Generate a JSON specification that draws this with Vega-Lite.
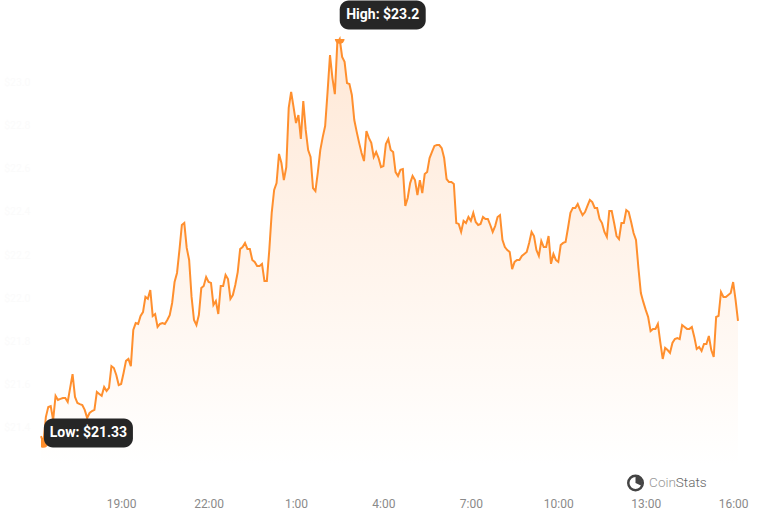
{"$schema":"https://vega.github.io/schema/vega-lite/v6.json","width":697,"height":426,"autosize":"none","padding":{"left":41,"top":39,"right":30,"bottom":59},"background":"#ffffff","config":{"view":{"stroke":null},"font":"Roboto"},
"datasets":{"series":[
{"time":"2024-01-01T16:15","price":21.362},{"time":"2024-01-01T16:20","price":21.33},{"time":"2024-01-01T16:25","price":21.45},{"time":"2024-01-01T16:30","price":21.497},{"time":"2024-01-01T16:35","price":21.501},{"time":"2024-01-01T16:40","price":21.436},{"time":"2024-01-01T16:45","price":21.548},{"time":"2024-01-01T16:50","price":21.529},{"time":"2024-01-01T16:55","price":21.534},{"time":"2024-01-01T17:00","price":21.538},{"time":"2024-01-01T17:05","price":21.538},{"time":"2024-01-01T17:10","price":21.52},{"time":"2024-01-01T17:15","price":21.585},{"time":"2024-01-01T17:20","price":21.649},{"time":"2024-01-01T17:25","price":21.543},{"time":"2024-01-01T17:30","price":21.515},{"time":"2024-01-01T17:35","price":21.51},{"time":"2024-01-01T17:40","price":21.506},{"time":"2024-01-01T17:45","price":21.483},{"time":"2024-01-01T17:50","price":21.446},{"time":"2024-01-01T17:55","price":21.469},{"time":"2024-01-01T18:00","price":21.478},{"time":"2024-01-01T18:05","price":21.483},{"time":"2024-01-01T18:10","price":21.566},{"time":"2024-01-01T18:15","price":21.557},{"time":"2024-01-01T18:20","price":21.548},{"time":"2024-01-01T18:25","price":21.589},{"time":"2024-01-01T18:30","price":21.571},{"time":"2024-01-01T18:35","price":21.585},{"time":"2024-01-01T18:40","price":21.686},{"time":"2024-01-01T18:45","price":21.677},{"time":"2024-01-01T18:50","price":21.645},{"time":"2024-01-01T18:55","price":21.598},{"time":"2024-01-01T19:00","price":21.603},{"time":"2024-01-01T19:05","price":21.654},{"time":"2024-01-01T19:10","price":21.71},{"time":"2024-01-01T19:15","price":21.719},{"time":"2024-01-01T19:20","price":21.686},{"time":"2024-01-01T19:25","price":21.853},{"time":"2024-01-01T19:30","price":21.885},{"time":"2024-01-01T19:35","price":21.881},{"time":"2024-01-01T19:40","price":21.918},{"time":"2024-01-01T19:45","price":21.936},{"time":"2024-01-01T19:50","price":22.006},{"time":"2024-01-01T19:55","price":21.997},{"time":"2024-01-01T20:00","price":22.038},{"time":"2024-01-01T20:05","price":21.918},{"time":"2024-01-01T20:10","price":21.927},{"time":"2024-01-01T20:15","price":21.867},{"time":"2024-01-01T20:20","price":21.881},{"time":"2024-01-01T20:25","price":21.885},{"time":"2024-01-01T20:30","price":21.881},{"time":"2024-01-01T20:35","price":21.899},{"time":"2024-01-01T20:40","price":21.922},{"time":"2024-01-01T20:45","price":21.978},{"time":"2024-01-01T20:50","price":22.075},{"time":"2024-01-01T20:55","price":22.117},{"time":"2024-01-01T21:00","price":22.223},{"time":"2024-01-01T21:05","price":22.339},{"time":"2024-01-01T21:10","price":22.348},{"time":"2024-01-01T21:15","price":22.233},{"time":"2024-01-01T21:20","price":22.177},{"time":"2024-01-01T21:25","price":22.006},{"time":"2024-01-01T21:30","price":21.899},{"time":"2024-01-01T21:35","price":21.876},{"time":"2024-01-01T21:40","price":21.922},{"time":"2024-01-01T21:45","price":22.047},{"time":"2024-01-01T21:50","price":22.057},{"time":"2024-01-01T21:55","price":22.098},{"time":"2024-01-01T22:00","price":22.075},{"time":"2024-01-01T22:05","price":22.071},{"time":"2024-01-01T22:10","price":21.969},{"time":"2024-01-01T22:15","price":21.987},{"time":"2024-01-01T22:20","price":21.927},{"time":"2024-01-01T22:25","price":22.057},{"time":"2024-01-01T22:30","price":22.057},{"time":"2024-01-01T22:35","price":22.108},{"time":"2024-01-01T22:40","price":22.089},{"time":"2024-01-01T22:45","price":21.997},{"time":"2024-01-01T22:50","price":22.015},{"time":"2024-01-01T22:55","price":22.061},{"time":"2024-01-01T23:00","price":22.121},{"time":"2024-01-01T23:05","price":22.228},{"time":"2024-01-01T23:10","price":22.237},{"time":"2024-01-01T23:15","price":22.256},{"time":"2024-01-01T23:20","price":22.228},{"time":"2024-01-01T23:25","price":22.228},{"time":"2024-01-01T23:30","price":22.177},{"time":"2024-01-01T23:35","price":22.168},{"time":"2024-01-01T23:40","price":22.149},{"time":"2024-01-01T23:45","price":22.149},{"time":"2024-01-01T23:50","price":22.159},{"time":"2024-01-01T23:55","price":22.08},
{"time":"2024-01-02T00:00","price":22.08},{"time":"2024-01-02T00:05","price":22.223},{"time":"2024-01-02T00:10","price":22.395},{"time":"2024-01-02T00:15","price":22.501},{"time":"2024-01-02T00:20","price":22.533},{"time":"2024-01-02T00:25","price":22.668},{"time":"2024-01-02T00:30","price":22.626},{"time":"2024-01-02T00:35","price":22.547},{"time":"2024-01-02T00:40","price":22.607},{"time":"2024-01-02T00:45","price":22.881},{"time":"2024-01-02T00:50","price":22.955},{"time":"2024-01-02T00:55","price":22.885},{"time":"2024-01-02T01:00","price":22.811},{"time":"2024-01-02T01:05","price":22.848},{"time":"2024-01-02T01:10","price":22.737},{"time":"2024-01-02T01:15","price":22.913},{"time":"2024-01-02T01:20","price":22.779},{"time":"2024-01-02T01:25","price":22.686},{"time":"2024-01-02T01:30","price":22.654},{"time":"2024-01-02T01:35","price":22.51},{"time":"2024-01-02T01:40","price":22.496},{"time":"2024-01-02T01:45","price":22.584},{"time":"2024-01-02T01:50","price":22.686},{"time":"2024-01-02T01:55","price":22.746},{"time":"2024-01-02T02:00","price":22.797},{"time":"2024-01-02T02:05","price":22.955},{"time":"2024-01-02T02:10","price":23.126},{"time":"2024-01-02T02:15","price":23.019},{"time":"2024-01-02T02:20","price":22.945},{"time":"2024-01-02T02:25","price":23.181},{"time":"2024-01-02T02:30","price":23.2},{"time":"2024-01-02T02:35","price":23.117},{"time":"2024-01-02T02:40","price":23.094},{"time":"2024-01-02T02:45","price":22.996},{"time":"2024-01-02T02:50","price":22.992},{"time":"2024-01-02T02:55","price":22.941},{"time":"2024-01-02T03:00","price":22.825},{"time":"2024-01-02T03:05","price":22.77},{"time":"2024-01-02T03:10","price":22.719},{"time":"2024-01-02T03:15","price":22.672},{"time":"2024-01-02T03:20","price":22.635},{"time":"2024-01-02T03:25","price":22.774},{"time":"2024-01-02T03:30","price":22.742},{"time":"2024-01-02T03:35","price":22.719},{"time":"2024-01-02T03:40","price":22.654},{"time":"2024-01-02T03:45","price":22.677},{"time":"2024-01-02T03:50","price":22.649},{"time":"2024-01-02T03:55","price":22.607},{"time":"2024-01-02T04:00","price":22.612},{"time":"2024-01-02T04:05","price":22.714},{"time":"2024-01-02T04:10","price":22.737},{"time":"2024-01-02T04:15","price":22.686},{"time":"2024-01-02T04:20","price":22.677},{"time":"2024-01-02T04:25","price":22.584},{"time":"2024-01-02T04:30","price":22.566},{"time":"2024-01-02T04:35","price":22.594},{"time":"2024-01-02T04:40","price":22.598},{"time":"2024-01-02T04:45","price":22.427},{"time":"2024-01-02T04:50","price":22.464},{"time":"2024-01-02T04:55","price":22.533},{"time":"2024-01-02T05:00","price":22.566},{"time":"2024-01-02T05:05","price":22.547},{"time":"2024-01-02T05:10","price":22.478},{"time":"2024-01-02T05:15","price":22.547},{"time":"2024-01-02T05:20","price":22.487},{"time":"2024-01-02T05:25","price":22.575},{"time":"2024-01-02T05:30","price":22.584},{"time":"2024-01-02T05:35","price":22.649},{"time":"2024-01-02T05:40","price":22.677},{"time":"2024-01-02T05:45","price":22.705},{"time":"2024-01-02T05:50","price":22.709},{"time":"2024-01-02T05:55","price":22.709},{"time":"2024-01-02T06:00","price":22.695},{"time":"2024-01-02T06:05","price":22.649},{"time":"2024-01-02T06:10","price":22.552},{"time":"2024-01-02T06:15","price":22.538},{"time":"2024-01-02T06:20","price":22.538},{"time":"2024-01-02T06:25","price":22.529},{"time":"2024-01-02T06:30","price":22.348},{"time":"2024-01-02T06:35","price":22.344},{"time":"2024-01-02T06:40","price":22.307},{"time":"2024-01-02T06:45","price":22.358},{"time":"2024-01-02T06:50","price":22.348},{"time":"2024-01-02T06:55","price":22.376},{"time":"2024-01-02T07:00","price":22.358},{"time":"2024-01-02T07:05","price":22.395},{"time":"2024-01-02T07:10","price":22.353},{"time":"2024-01-02T07:15","price":22.339},{"time":"2024-01-02T07:20","price":22.344},{"time":"2024-01-02T07:25","price":22.376},{"time":"2024-01-02T07:30","price":22.367},{"time":"2024-01-02T07:35","price":22.367},{"time":"2024-01-02T07:40","price":22.339},{"time":"2024-01-02T07:45","price":22.307},{"time":"2024-01-02T07:50","price":22.334},{"time":"2024-01-02T07:55","price":22.376},{"time":"2024-01-02T08:00","price":22.385},{"time":"2024-01-02T08:05","price":22.27},{"time":"2024-01-02T08:10","price":22.237},{"time":"2024-01-02T08:15","price":22.223},{"time":"2024-01-02T08:20","price":22.214},{"time":"2024-01-02T08:25","price":22.135},{"time":"2024-01-02T08:30","price":22.168},{"time":"2024-01-02T08:35","price":22.177},{"time":"2024-01-02T08:40","price":22.177},{"time":"2024-01-02T08:45","price":22.196},{"time":"2024-01-02T08:50","price":22.205},{"time":"2024-01-02T08:55","price":22.214},{"time":"2024-01-02T09:00","price":22.256},{"time":"2024-01-02T09:05","price":22.307},{"time":"2024-01-02T09:10","price":22.288},{"time":"2024-01-02T09:15","price":22.223},{"time":"2024-01-02T09:20","price":22.196},{"time":"2024-01-02T09:25","price":22.265},{"time":"2024-01-02T09:30","price":22.237},{"time":"2024-01-02T09:35","price":22.237},{"time":"2024-01-02T09:40","price":22.288},{"time":"2024-01-02T09:45","price":22.159},{"time":"2024-01-02T09:50","price":22.205},{"time":"2024-01-02T09:55","price":22.177},{"time":"2024-01-02T10:00","price":22.168},{"time":"2024-01-02T10:05","price":22.246},{"time":"2024-01-02T10:10","price":22.256},{"time":"2024-01-02T10:15","price":22.26},{"time":"2024-01-02T10:20","price":22.325},{"time":"2024-01-02T10:25","price":22.395},{"time":"2024-01-02T10:30","price":22.418},{"time":"2024-01-02T10:35","price":22.418},{"time":"2024-01-02T10:40","price":22.436},{"time":"2024-01-02T10:45","price":22.408},{"time":"2024-01-02T10:50","price":22.385},{"time":"2024-01-02T10:55","price":22.399},{"time":"2024-01-02T11:00","price":22.427},{"time":"2024-01-02T11:05","price":22.455},{"time":"2024-01-02T11:10","price":22.445},{"time":"2024-01-02T11:15","price":22.418},{"time":"2024-01-02T11:20","price":22.418},{"time":"2024-01-02T11:25","price":22.367},{"time":"2024-01-02T11:30","price":22.348},{"time":"2024-01-02T11:35","price":22.307},{"time":"2024-01-02T11:40","price":22.284},{"time":"2024-01-02T11:45","price":22.404},{"time":"2024-01-02T11:50","price":22.404},{"time":"2024-01-02T11:55","price":22.348},{"time":"2024-01-02T12:00","price":22.288},{"time":"2024-01-02T12:05","price":22.274},{"time":"2024-01-02T12:10","price":22.348},{"time":"2024-01-02T12:15","price":22.348},{"time":"2024-01-02T12:20","price":22.408},{"time":"2024-01-02T12:25","price":22.399},{"time":"2024-01-02T12:30","price":22.353},{"time":"2024-01-02T12:35","price":22.302},{"time":"2024-01-02T12:40","price":22.27},{"time":"2024-01-02T12:45","price":22.14},{"time":"2024-01-02T12:50","price":22.024},{"time":"2024-01-02T12:55","price":21.983},{"time":"2024-01-02T13:00","price":21.946},{"time":"2024-01-02T13:05","price":21.913},{"time":"2024-01-02T13:10","price":21.848},{"time":"2024-01-02T13:15","price":21.858},{"time":"2024-01-02T13:20","price":21.858},{"time":"2024-01-02T13:25","price":21.881},{"time":"2024-01-02T13:30","price":21.797},{"time":"2024-01-02T13:35","price":21.719},{"time":"2024-01-02T13:40","price":21.77},{"time":"2024-01-02T13:45","price":21.76},{"time":"2024-01-02T13:50","price":21.747},{"time":"2024-01-02T13:55","price":21.793},{"time":"2024-01-02T14:00","price":21.811},{"time":"2024-01-02T14:05","price":21.816},{"time":"2024-01-02T14:10","price":21.811},{"time":"2024-01-02T14:15","price":21.876},{"time":"2024-01-02T14:20","price":21.867},{"time":"2024-01-02T14:25","price":21.858},{"time":"2024-01-02T14:30","price":21.858},{"time":"2024-01-02T14:35","price":21.867},{"time":"2024-01-02T14:40","price":21.821},{"time":"2024-01-02T14:45","price":21.765},{"time":"2024-01-02T14:50","price":21.774},{"time":"2024-01-02T14:55","price":21.756},{"time":"2024-01-02T15:00","price":21.788},{"time":"2024-01-02T15:05","price":21.788},{"time":"2024-01-02T15:10","price":21.825},{"time":"2024-01-02T15:15","price":21.76},{"time":"2024-01-02T15:20","price":21.728},{"time":"2024-01-02T15:25","price":21.913},{"time":"2024-01-02T15:30","price":21.918},{"time":"2024-01-02T15:35","price":22.029},{"time":"2024-01-02T15:40","price":22.006},{"time":"2024-01-02T15:45","price":22.006},{"time":"2024-01-02T15:50","price":22.015},{"time":"2024-01-02T15:55","price":22.024},{"time":"2024-01-02T16:00","price":22.075},{"time":"2024-01-02T16:05","price":21.992},{"time":"2024-01-02T16:10","price":21.895}
],
"low":[{"time":"2024-01-01T16:20","price":21.33,"label":"Low: $21.33"}],
"high":[{"time":"2024-01-02T02:30","price":23.2,"label":"High: $23.2"}],
"brand":[{"time":"2024-01-02T13:07","price":21.145,"label":"Coin","tone":"a"},{"time":"2024-01-02T14:02","price":21.145,"label":"Stats","tone":"b"}],
"logo":[{"time":"2024-01-02T12:39","price":21.145}]},
"data":{"name":"series"},
"encoding":{"x":{"field":"time","type":"temporal","scale":{"nice":false,"domain":[{"year":2024,"month":1,"date":1,"hours":16,"minutes":15},{"year":2024,"month":1,"date":2,"hours":16,"minutes":10}]},"axis":{"title":null,"domain":false,"ticks":false,"grid":false,"format":"%-H:%M","labelFont":"Roboto","labelFontSize":12,"labelColor":"#8a8a8a","labelPadding":33,"labelFlush":false,"labelOverlap":false,"values":[{"year":2024,"month":1,"date":1,"hours":19},{"year":2024,"month":1,"date":1,"hours":22},{"year":2024,"month":1,"date":2,"hours":1},{"year":2024,"month":1,"date":2,"hours":4},{"year":2024,"month":1,"date":2,"hours":7},{"year":2024,"month":1,"date":2,"hours":10},{"year":2024,"month":1,"date":2,"hours":13},{"year":2024,"month":1,"date":2,"hours":16}]}},"y":{"field":"price","type":"quantitative","scale":{"domain":[21.228,23.2],"nice":false,"zero":false},"axis":{"title":null,"domain":false,"ticks":false,"grid":false,"format":"$.1f","labelFont":"Roboto","labelFontSize":10.5,"labelColor":"#fbfbfb","labelPadding":11,"values":[21.4,21.6,21.8,22,22.2,22.4,22.6,22.8,23]}}},
"layer":[
{"mark":{"type":"area","color":{"gradient":"linear","x1":1,"y1":1,"x2":1,"y2":0,"stops":[{"offset":0,"color":"#ffffff"},{"offset":1,"color":"#ffe8d6"}]}},"encoding":{"y2":{"datum":21.228}}},
{"mark":{"type":"line","color":"#ff8f2e","strokeWidth":2}},
{"data":{"name":"low"},"mark":{"type":"point","filled":true,"shape":"circle","size":95,"color":"#ff8f2e","opacity":1,"clip":true}},
{"data":{"name":"high"},"mark":{"type":"point","filled":true,"shape":"circle","size":95,"color":"#ff8f2e","opacity":1,"clip":true}},
{"data":{"name":"low"},"mark":{"type":"rect","width":89,"height":29,"cornerRadius":9,"color":"#262626","xOffset":45,"yOffset":-10}},
{"data":{"name":"high"},"mark":{"type":"rect","width":86,"height":29,"cornerRadius":9,"color":"#262626","xOffset":43,"yOffset":-24}},
{"data":{"name":"low"},"mark":{"type":"text","font":"Roboto","fontSize":14,"fontWeight":"bold","color":"#ffffff","align":"center","baseline":"middle","dx":45,"dy":-10},"encoding":{"text":{"field":"label"}}},
{"data":{"name":"high"},"mark":{"type":"text","font":"Roboto","fontSize":14,"fontWeight":"bold","color":"#ffffff","align":"center","baseline":"middle","dx":43,"dy":-24},"encoding":{"text":{"field":"label"}}},
{"data":{"name":"brand"},"mark":{"type":"text","font":"Roboto","fontSize":13.5,"fontWeight":300,"align":"left","baseline":"middle"},"encoding":{"text":{"field":"label"},"color":{"field":"tone","type":"nominal","scale":{"domain":["a","b"],"range":["#999999","#666666"]},"legend":null}}},
{"data":{"name":"logo"},"mark":{"type":"arc","innerRadius":6,"outerRadius":8.5,"color":"#444444"}},
{"data":{"name":"logo"},"mark":{"type":"arc","innerRadius":0,"outerRadius":6.5,"theta":0,"theta2":2,"color":"#444444"}}
]}
